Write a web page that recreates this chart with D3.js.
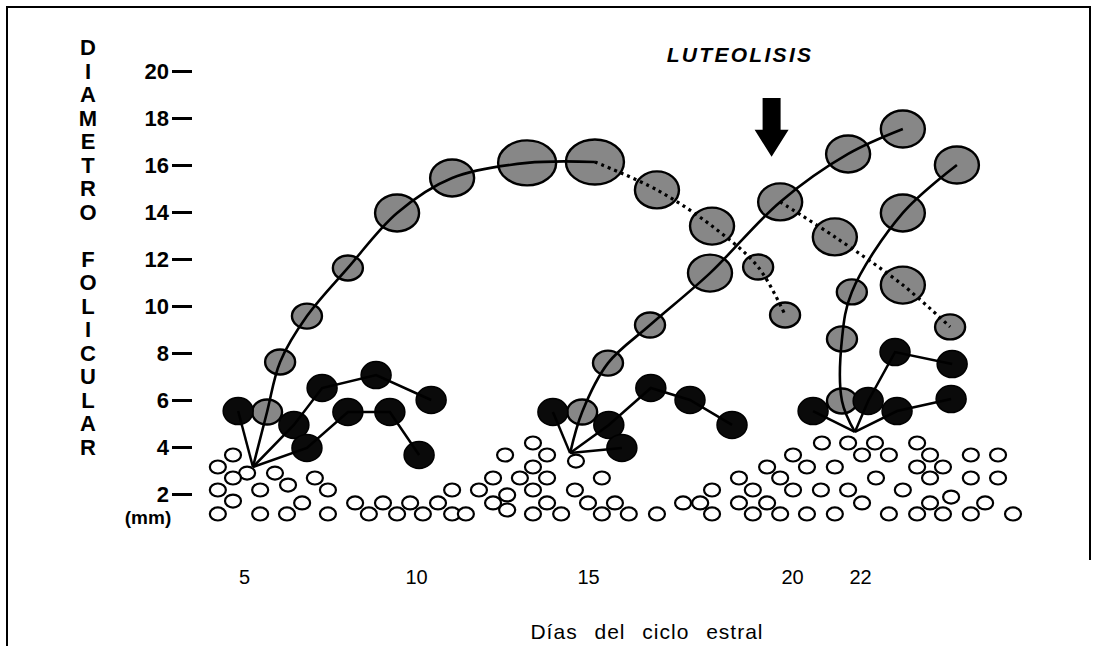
<!DOCTYPE html>
<html><head><meta charset="utf-8">
<script src="https://cdn.jsdelivr.net/npm/d3@7"></script>
<style>body{margin:0;background:#fff}svg{display:block}</style>
</head><body><svg id="c" width="1104" height="646"></svg>
<script>
// ---------- data ----------
const xTickDays = [5, 10, 15, 20, 22];
const yTicks = [2, 4, 6, 8, 10, 12, 14, 16, 18, 20];
const yTitleTop = "DIAMETRO";
const yTitleBottom = "FOLICULAR";
const xTitle = "Días del ciclo estral";
const eventLabel = "LUTEOLISIS";
const luteolysisDay = 19.5;

// emergence points of the three follicular waves [day, mm]
const emergence = [[5.26, 3.15], [14.48, 3.74], [21.85, 4.64]];

// dominant follicles [day, mm, sizeClass]
const wave1Dominant = [[5.67,5.49,'s'],[6.05,7.62,'s'],[6.83,9.57,'s'],[8.02,11.62,'s'],[9.45,13.96,'m'],[11.05,15.45,'m'],[13.23,16.09,'l'],[15.17,16.13,'l']];
const wave1Regress  = [[16.69,14.94,'m'],[18.04,13.40,'m'],[19.17,11.66,'s'],[19.83,9.62,'s']];
const wave2Dominant = [[14.83,5.49,'s'],[15.49,7.57,'s'],[16.52,9.19,'s'],[17.99,11.40,'m'],[19.71,14.43,'m'],[21.65,16.47,'m'],[23.26,17.53,'m']];
const wave2Regress  = [[21.26,12.94,'m'],[23.26,10.89,'m'],[24.65,9.11,'s']];
const wave3Dominant = [[21.47,5.96,'s'],[21.47,8.60,'s'],[21.76,10.60,'s'],[23.26,13.96,'m'],[24.85,16.00,'m']];

// subordinate follicles, chains of [day, mm]
const wave1Subordinate = [
  [[4.83,5.53]],
  [[6.45,4.94],[7.27,6.51],[8.84,7.06],[10.44,6.00]],
  [[6.83,3.96],[8.02,5.49],[9.24,5.49],[10.09,3.66]]
];
const wave2Subordinate = [
  [[13.98,5.49]],
  [[15.51,4.94],[16.54,6.51],[17.50,6.00],[18.53,4.94]],
  [[15.83,3.96]]
];
const wave3Subordinate = [
  [[20.62,5.53]],
  [[22.24,5.96],[23.03,8.04],[24.71,7.53]],
  [[23.09,5.53],[24.68,6.04]]
];

// small antral follicles [day, mm]
const smallFollicles = [
 [4.68,3.66],[4.24,3.15],[5.09,2.89],[4.68,2.68],[5.90,2.89],[4.24,2.17],[5.47,2.17],[6.28,2.38],[7.06,2.68],[7.44,2.17],
 [4.68,1.70],[6.69,1.62],[4.24,1.15],[5.47,1.15],[6.25,1.15],[7.44,1.15],[8.23,1.62],[8.63,1.15],[9.04,1.62],[9.45,1.15],
 [9.83,1.62],[10.20,1.15],[10.64,1.62],[11.05,2.17],[11.05,1.15],[11.45,1.15],
 [11.83,2.17],[12.24,2.68],[12.24,1.62],[12.59,3.66],[12.65,1.96],[12.65,1.32],[13.02,2.68],[13.40,4.17],[13.40,3.15],[13.40,2.17],
 [13.40,1.15],[13.81,3.66],[13.81,2.68],[13.81,1.62],[14.22,1.15],[14.62,2.17],[14.65,3.40],[15.00,1.62],[15.34,2.68],[15.34,1.15],
 [15.66,1.62],[16.00,1.15],[16.69,1.15],[17.33,1.62],[17.75,1.62],[18.04,2.17],[18.04,1.15],
 [20.88,4.17],[21.65,4.17],[22.44,4.17],[23.68,4.17],[20.03,3.66],[22.06,3.66],[22.85,3.66],[24.06,3.66],[25.26,3.66],[26.06,3.66],
 [19.39,3.15],[20.44,3.15],[21.26,3.15],[23.68,3.15],[24.44,3.15],
 [18.70,2.68],[19.71,2.68],[22.47,2.68],[24.06,2.68],[25.26,2.68],[26.06,2.68],
 [19.04,2.17],[20.03,2.17],[20.85,2.17],[21.65,2.17],[23.26,2.17],
 [18.70,1.62],[19.39,1.62],[22.06,1.62],[24.06,1.62],[24.68,1.87],[25.68,1.62],
 [19.04,1.15],[19.71,1.15],[20.44,1.15],[21.26,1.15],[22.85,1.15],[23.68,1.15],[24.44,1.15],[25.26,1.15],[26.50,1.15]
];

// ---------- drawing ----------
const svg = d3.select("#c");
const FONT = "'Liberation Sans', Arial, Helvetica, sans-serif";
svg.append("rect").attr("width",1104).attr("height",646).attr("fill","#fff");

const x = d3.scaleLinear().domain(xTickDays).range([244,416,588,792,860]);
const y = d3.scaleLinear().domain([2,20]).range([494,71]);
const rad = d3.scaleOrdinal().domain(['s','m','l','b','t']).range([[15,12.5],[22,18.5],[29,22.5],[15,13.5],[8,6.5]]);

// frame
svg.append("path").attr("d","M7,646 V7 H1090 V560").attr("fill","none").attr("stroke","#000").attr("stroke-width",2);

// y axis
const yAx = svg.append("g").attr("transform","translate(192,0)")
  .call(d3.axisLeft(y).tickValues(yTicks).tickSize(20).tickPadding(3));
yAx.select(".domain").remove();
yAx.selectAll(".tick line").attr("stroke","#000").attr("stroke-width",3);
yAx.selectAll(".tick text").attr("fill","#000").style("font-family",FONT).style("font-size","22px").style("font-weight","bold");
svg.append("text").attr("x",148).attr("y",y(1)).attr("dy","0.36em").attr("text-anchor","middle")
  .style("font-family",FONT).style("font-size","19px").style("font-weight","bold").text("(mm)");

// y title letters
const letters = [...yTitleTop].map((c,i)=>({c, v:21-i})).concat([...yTitleBottom].map((c,i)=>({c, v:12-i})));
svg.append("g").selectAll("text").data(letters).join("text")
  .attr("x",88).attr("y",d=>y(d.v)).attr("dy","0.36em").attr("text-anchor","middle")
  .style("font-family",FONT).style("font-size","22px").style("font-weight","bold").text(d=>d.c);

// x axis
const xAx = svg.append("g").attr("transform","translate(0,570)")
  .call(d3.axisBottom(x).tickValues(xTickDays).tickSize(0).tickPadding(0));
xAx.select(".domain").remove();
xAx.selectAll(".tick text").attr("fill","#000").style("font-family",FONT).style("font-size","20px");
svg.append("text").attr("x",647).attr("y",639).attr("text-anchor","middle")
  .style("font-family",FONT).style("font-size","21px").style("letter-spacing","1px").style("word-spacing","10px").text(xTitle);

// luteolysis label + arrow
svg.append("text").attr("x",740).attr("y",62).attr("text-anchor","middle")
  .style("font-family",FONT).style("font-size","21px").style("font-weight","bold").style("font-style","italic")
  .style("letter-spacing","2.3px").text(eventLabel);
const ax = x(luteolysisDay);
svg.append("path")
  .attr("d",`M${ax-9},${y(18.85)} H${ax+9} V${y(17.5)} H${ax+17} L${ax},${y(16.35)} L${ax-17},${y(17.5)} H${ax-9} Z`)
  .attr("fill","#000");

// small follicles
svg.append("g").selectAll("ellipse").data(smallFollicles).join("ellipse")
  .attr("cx",d=>x(d[0])).attr("cy",d=>y(d[1])).attr("rx",rad('t')[0]).attr("ry",rad('t')[1])
  .attr("fill","#fff").attr("stroke","#000").attr("stroke-width",2.2);

// gray dominant follicles
const gray = [].concat(wave1Dominant, wave1Regress, wave2Dominant, wave2Regress, wave3Dominant);
svg.append("g").selectAll("ellipse").data(gray).join("ellipse")
  .attr("cx",d=>x(d[0])).attr("cy",d=>y(d[1])).attr("rx",d=>rad(d[2])[0]).attr("ry",d=>rad(d[2])[1])
  .attr("fill","#878787").attr("stroke","#000").attr("stroke-width",2.4);

// black subordinate follicles
const subs = [wave1Subordinate, wave2Subordinate, wave3Subordinate];
const black = subs.flat(2);
svg.append("g").selectAll("ellipse").data(black).join("ellipse")
  .attr("cx",d=>x(d[0])).attr("cy",d=>y(d[1])).attr("rx",rad('b')[0]).attr("ry",rad('b')[1])
  .attr("fill","#0a0a0a").attr("stroke","#000").attr("stroke-width",1.5);

// lines
const straight = d3.line().x(d=>x(d[0])).y(d=>y(d[1]));
const smooth = d3.line().x(d=>x(d[0])).y(d=>y(d[1])).curve(d3.curveCatmullRom.alpha(0.5));
const lines = svg.append("g").attr("fill","none").attr("stroke","#000");
subs.forEach((w,i)=>{
  w.forEach(chain=>{
    lines.append("path").attr("d",straight([emergence[i], ...chain])).attr("stroke-width",2.5);
  });
});
const solid = [
  [emergence[0], ...wave1Dominant],
  [emergence[1], ...wave2Dominant],
  [emergence[2], ...wave3Dominant]
];
solid.forEach(p=>lines.append("path").attr("d",smooth(p)).attr("stroke-width",2.6));
const dotted = [
  [wave1Dominant[wave1Dominant.length-1], ...wave1Regress],
  [wave2Dominant[4], ...wave2Regress]
];
dotted.forEach(p=>lines.append("path").attr("d",smooth(p)).attr("stroke-width",3.2).attr("stroke-dasharray","3,4"));
</script></body></html>
